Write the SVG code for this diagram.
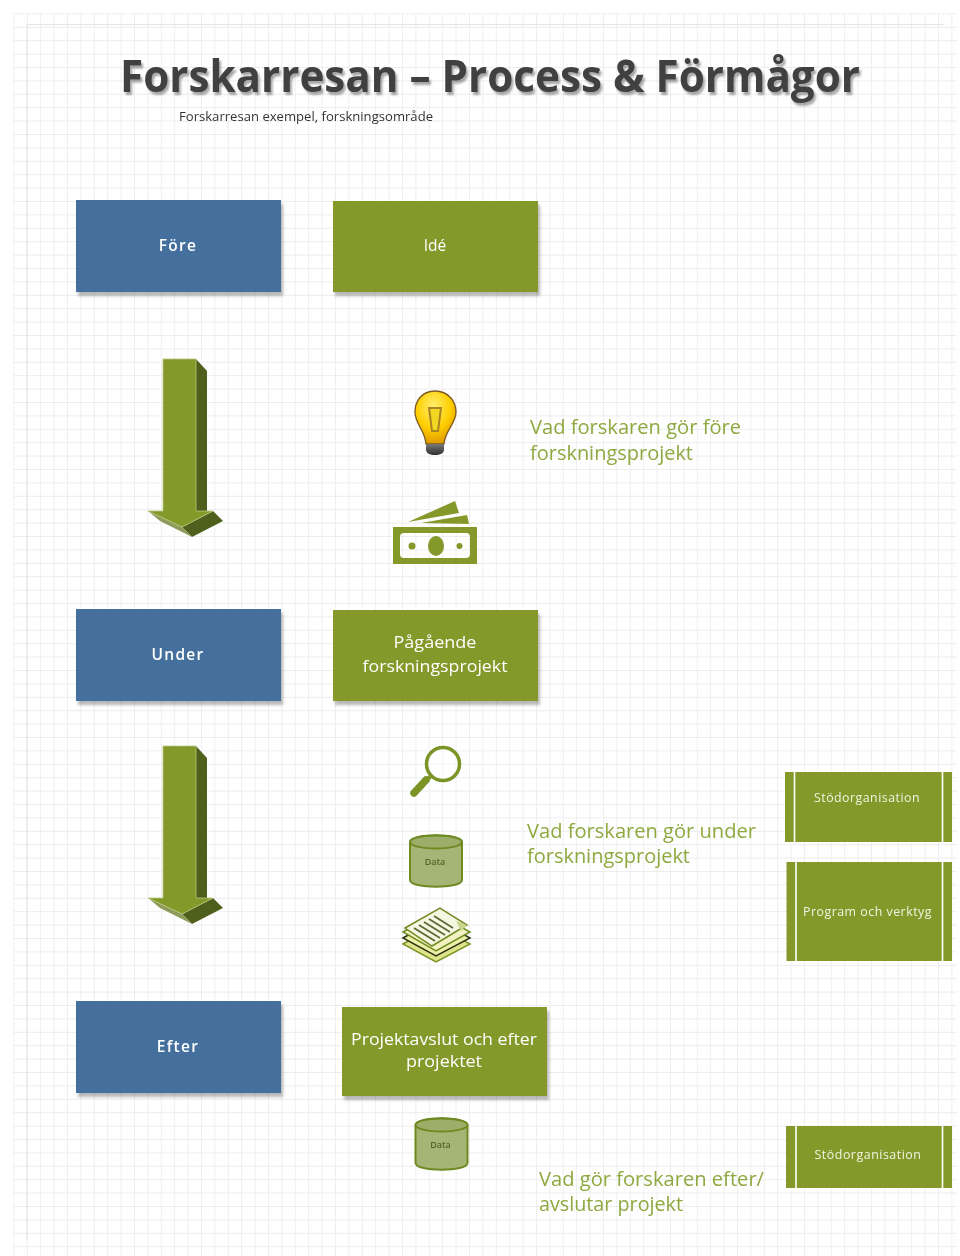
<svg xmlns="http://www.w3.org/2000/svg" width="960" height="1256" viewBox="0 0 960 1256">
<defs>
<style>
text{font-family:"Open Sans","Noto Sans","Liberation Sans",sans-serif}
.blue{fill:#44709d}
.green{fill:#84992a}
.lbl{fill:#fff;font-size:15.5px;text-anchor:middle}
.big{font-size:17px}
.sp{letter-spacing:1.3px;font-weight:600}
.note{fill:#8fa83f;font-size:20px}
.side{fill:#f1f4e2;font-size:12.5px;text-anchor:middle;letter-spacing:.5px}
.sep{stroke:#fff;stroke-width:1.6}
.cyl{fill:#a4b574;stroke:#6f8a24;stroke-width:2}
.dt{fill:#55622f;font-size:9px;text-anchor:middle;font-weight:600}
</style>
<pattern id="grid" width="13.4" height="13.4" patternUnits="userSpaceOnUse" x="13.4" y="13.4">
<path d="M0 0H13.4M0 0V13.4" fill="none" stroke="#ececec" stroke-width="1.7"/>
</pattern>
<filter id="soft" x="-5%" y="-5%" width="110%" height="110%"><feGaussianBlur stdDeviation="0.45"/></filter>
<filter id="sh" x="-10%" y="-10%" width="125%" height="130%"><feDropShadow dx="2" dy="4" stdDeviation="1.8" flood-color="#000" flood-opacity=".28"/></filter>
<filter id="tsh" x="-5%" y="-10%" width="110%" height="130%"><feDropShadow dx="2" dy="3" stdDeviation="1.2" flood-color="#000" flood-opacity=".35"/></filter>
<radialGradient id="bulb" cx=".45" cy=".3" r=".75"><stop offset="0" stop-color="#ffee70"/><stop offset=".55" stop-color="#ffcf00"/><stop offset="1" stop-color="#d98f00"/></radialGradient>
<linearGradient id="base" x1="0" y1="0" x2="0" y2="1"><stop offset="0" stop-color="#777"/><stop offset="1" stop-color="#2f2f2f"/></linearGradient>
<g id="bigArrow">
<polygon points="196,359 207,371 207,512 196,512" fill="#4f5f1c"/>
<polygon points="213,511 223,521 192,537 182,527" fill="#4f5f1c"/>
<polygon points="148,511 182,527 192,537 160,521" fill="#8e9b5a"/>
<polygon points="163,359 196,359 196,511 213,511 182,527 148,511 163,511" fill="#84992a" stroke="#b9c77f" stroke-width=".8"/>
</g>
<g id="cylinder">
<path class="cyl" d="M0 7C0-2 52-2 52 7V45C52 54 0 54 0 45Z"/>
<ellipse cx="26" cy="7" rx="26" ry="6.500" fill="#9cae6a" stroke="#6f8a24" stroke-width="2"/>
<text class="dt" x="25" y="30">Data</text>
</g>
</defs>
<rect width="960" height="1256" fill="#fff"/>
<g filter="url(#soft)">
<rect x="13" y="13" width="944" height="1243" fill="url(#grid)"/>
<path d="M27 24.500H944M27 24V1240" stroke="#e4e4e4" stroke-width="1" fill="none"/>

<g id="title">
<text x="120" y="92" font-size="44" font-weight="700" fill="#404040" textLength="740" lengthAdjust="spacingAndGlyphs" filter="url(#tsh)">Forskarresan – Process &amp; Förmågor</text>
<text x="179" y="121" font-size="12" fill="#333" textLength="254" lengthAdjust="spacingAndGlyphs">Forskarresan exempel, forskningsområde</text>
</g>

<g id="connectors">
<use href="#bigArrow"/>
<use href="#bigArrow" y="387"/>
</g>

<g id="fore"><rect class="blue" x="76" y="200" width="205" height="92" filter="url(#sh)"/><text class="lbl sp" x="178" y="251">Före</text></g>
<g id="ide"><rect class="green" x="333" y="201" width="205" height="91" filter="url(#sh)"/><text class="lbl" x="435" y="251">Idé</text></g>
<g id="under"><rect class="blue" x="76" y="609" width="205" height="92" filter="url(#sh)"/><text class="lbl sp" x="178" y="660">Under</text></g>
<g id="pagaende"><rect class="green" x="333" y="610" width="205" height="91" filter="url(#sh)"/>
<text class="lbl big" x="435" y="648" textLength="83" lengthAdjust="spacingAndGlyphs">Pågående</text>
<text class="lbl big" x="435" y="672" textLength="145" lengthAdjust="spacingAndGlyphs">forskningsprojekt</text></g>
<g id="efter"><rect class="blue" x="76" y="1001" width="205" height="92" filter="url(#sh)"/><text class="lbl sp" x="178" y="1052">Efter</text></g>
<g id="projektavslut"><rect class="green" x="342" y="1007" width="205" height="89" filter="url(#sh)"/>
<text class="lbl big" x="444" y="1045" textLength="186" lengthAdjust="spacingAndGlyphs">Projektavslut och efter</text>
<text class="lbl big" x="444" y="1067" textLength="76" lengthAdjust="spacingAndGlyphs">projektet</text></g>

<g id="bulb-icon">
<path d="M435 391C421 391 415 402 415 412C415 424 425 430 426 444H444C445 430 456 424 456 412C456 402 449 391 435 391Z" fill="url(#bulb)" stroke="#7a5a20" stroke-width="1.300"/>
<path d="M429 408H441L438 431H432Z" fill="#f2d820" stroke="#a98420" stroke-width="2"/>
<path d="M426 444H444V450C444 453 440 455 435 455C430 455 426 453 426 450Z" fill="url(#base)"/>
</g>
<g id="money-icon" fill="#84992a">
<path d="M393 527H477V564H393ZM404 533Q400 533 400 537V554Q400 558 404 558H466Q470 558 470 554V537Q470 533 466 533Z" fill-rule="evenodd"/>
<ellipse cx="436" cy="546" rx="8" ry="10"/>
<circle cx="412" cy="546" r="3.500"/><circle cx="459.500" cy="546" r="3"/>
<polygon points="408,522 455,501 459,513"/>
<polygon points="421,523 467,515 469,524"/>
</g>
<text class="note" x="530" y="434" textLength="211" lengthAdjust="spacingAndGlyphs">Vad forskaren gör före</text>
<text class="note" x="530" y="460" textLength="163" lengthAdjust="spacingAndGlyphs">forskningsprojekt</text>

<g id="magnifier">
<circle cx="443" cy="764" r="16.500" fill="#fff" fill-opacity=".5" stroke="#7b9428" stroke-width="3.500"/>
<path d="M431 776L415 791" stroke="#7b9428" stroke-width="4" fill="none"/>
<path d="M426 780L414 793" stroke="#7b9428" stroke-width="7.500" stroke-linecap="round" fill="none"/>
</g>
<g id="data1"><use href="#cylinder" x="410" y="835"/></g>
<g id="papers">
<polygon points="403,944 436,925 470,944 436,962" fill="#dfe38a" stroke="#7b9428" stroke-width="1.500"/>
<polygon points="403,938 436,919 470,938 436,956" fill="#eef0a8" stroke="#2f3512" stroke-width="1.500"/>
<polygon points="403,932 436,913 470,932 436,951" fill="#f2f2c0" stroke="#6f8a24" stroke-width="1.500"/>
<polygon points="405,928 440,908 467,925 432,946" fill="#f6f7e2" stroke="#6f8a24" stroke-width="1.500"/>
<path d="M414 928L435 941M419 925L440 938M424 922L445 935M429 919L450 932M434 916L453 928" stroke="#5c6b35" stroke-width="1.800" fill="none"/>
<polygon points="456,921 467,925 461,931" fill="#c9d58a"/>
</g>
<text class="note" x="527" y="838" textLength="229" lengthAdjust="spacingAndGlyphs">Vad forskaren gör under</text>
<text class="note" x="527" y="863" textLength="163" lengthAdjust="spacingAndGlyphs">forskningsprojekt</text>

<g id="stod1"><rect class="green" x="785" y="772" width="167" height="70"/><path class="sep" d="M794.500 772V842M942.500 772V842"/><text class="side" x="867" y="802" textLength="106" lengthAdjust="spacingAndGlyphs">Stödorganisation</text></g>
<g id="program"><rect class="green" x="786.500" y="862" width="165.500" height="99"/><path class="sep" d="M796 862V961M942.500 862V961"/><text class="side" x="867.500" y="916" textLength="129" lengthAdjust="spacingAndGlyphs">Program och verktyg</text></g>

<g id="data2"><use href="#cylinder" x="415.500" y="1118"/></g>
<text class="note" x="539" y="1186" textLength="225" lengthAdjust="spacingAndGlyphs">Vad gör forskaren efter/</text>
<text class="note" x="539" y="1211" textLength="144" lengthAdjust="spacingAndGlyphs">avslutar projekt</text>
<g id="stod2"><rect class="green" x="786" y="1126" width="166" height="62"/><path class="sep" d="M796 1126V1188M942.500 1126V1188"/><text class="side" x="868" y="1159" textLength="107" lengthAdjust="spacingAndGlyphs">Stödorganisation</text></g>
</g>
</svg>
